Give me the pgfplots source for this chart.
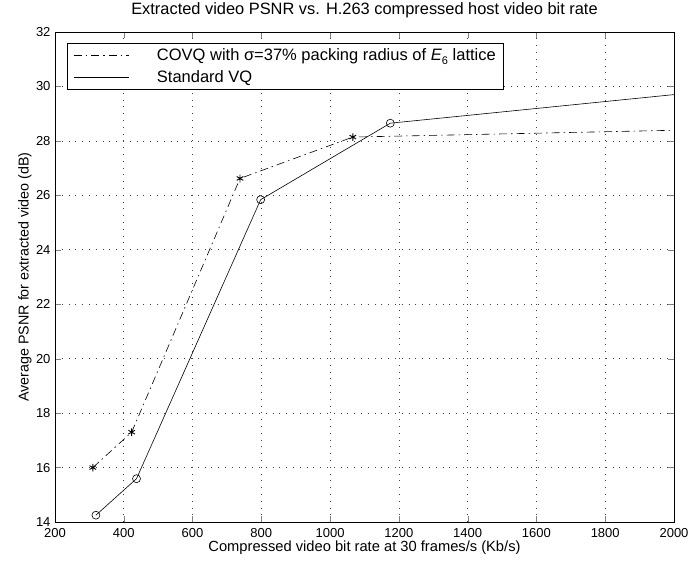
\documentclass[border=0pt]{standalone}
\usepackage{pgfplots}
\pgfplotsset{compat=1.18}
\usepackage{fontspec}
\setmainfont{Liberation Sans}

\begin{document}
\begin{tikzpicture}
\begin{axis}[
    name=main,
    scale only axis,
    width=619pt, height=490pt,
    xmin=200, xmax=2000,
    ymin=14, ymax=32,
    xtick={200,400,...,2000},
    ytick={14,16,...,32},
    tick align=inside,
    xtick pos=both, ytick pos=both,
    major tick length=6pt,
    grid=major,
    grid style={black!75, dash pattern=on 0.8pt off 6pt, line width=0.6pt},
    axis line style={black, line width=0.7pt},
    /pgf/number format/assume math mode=true,
    /pgf/number format/1000 sep={},
    tick label style={font=\fontsize{13}{15}\selectfont},
    xticklabel style={yshift=-3pt},
    yticklabel style={xshift=-1pt},
    title={Extracted video PSNR vs. H.263 compressed host video bit rate},
    title style={font=\fontsize{16.4}{18}\selectfont, at={(axis description cs:0.5,1.033)}, anchor=center},
    xlabel={Compressed video bit rate at 30 frames/s (Kb/s)},
    xlabel style={font=\fontsize{14.7}{17}\selectfont, at={(axis description cs:0.5,-0.053)}, anchor=center},
    ylabel={Average PSNR for extracted video (dB)},
    ylabel style={font=\fontsize{14.3}{16}\selectfont, at={(axis description cs:-0.0485,0.5)}, anchor=center},
    legend style={at={(axis description cs:0.0194,0.9776)}, anchor=north west, draw=black,
        line width=0.7pt, font=\fontsize{16.5}{18}\selectfont,
        inner xsep=6pt, inner ysep=3pt, row sep=5pt},
    legend cell align=left,
    legend image code/.code={\draw[#1, mark=none, line width=0.6pt] (0pt,0pt) -- (55pt,0pt);},
]
\addplot[black, line width=0.6pt, dash pattern=on 8pt off 4pt on 1.5pt off 4pt,
    mark=asterisk, mark size=3.8pt, mark indices={1,2,3,4},
    mark options={solid, line width=0.9pt}]
coordinates {
    (310,16.0) (423,17.3) (738,26.62) (1066,28.14) (2000,28.39)
};
\addlegendentry{\hspace{26pt}COVQ with σ=37\% packing radius of \textit{E}\raisebox{-0.45ex}{\fontsize{11}{12}\selectfont 6} lattice}
\addplot[black, line width=0.6pt,
    mark=o, mark size=4pt, mark indices={1,2,3,4},
    mark options={solid, line width=0.6pt}]
coordinates {
    (319,14.25) (437,15.59) (798,25.84) (1175,28.65) (2000,29.7)
};
\addlegendentry{\hspace{26pt}Standard VQ}
\end{axis}
\pgfresetboundingbox
\path ([xshift=-55pt,yshift=-40pt]main.south west) rectangle ([xshift=25pt,yshift=32pt]main.north east);
\end{tikzpicture}
\end{document}
